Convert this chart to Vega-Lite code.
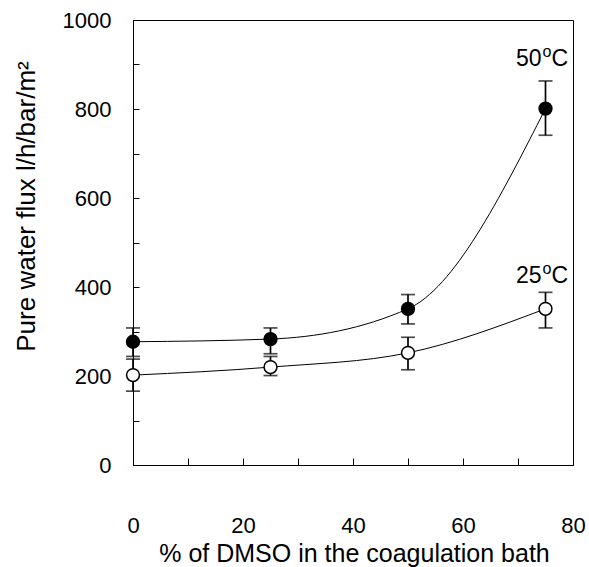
{
  "$schema": "https://vega.github.io/schema/vega-lite/v6.json",
  "autosize": {"type": "none"},
  "padding": {"left": 133, "top": 20, "right": 16, "bottom": 102},
  "width": 440,
  "height": 445,
  "background": "white",
  "config": {
    "view": {"stroke": "black", "strokeWidth": 1},
    "font": "Liberation Sans",
    "axis": {
      "grid": false,
      "domainColor": "black",
      "domainWidth": 1,
      "tickColor": "black",
      "tickWidth": 1,
      "labelColor": "black",
      "titleColor": "black",
      "labelFont": "Liberation Sans",
      "titleFont": "Liberation Sans",
      "labelFontSize": 22,
      "titleFontSize": 25,
      "titleFontWeight": "normal",
      "labelFlush": false
    }
  },
  "data": {
    "values": [
      {"dmso": 0, "flux": 277, "lo": 244, "hi": 308, "temp": "50"},
      {"dmso": 25, "flux": 283, "lo": 250, "hi": 308, "temp": "50"},
      {"dmso": 50, "flux": 351, "lo": 317, "hi": 383, "temp": "50"},
      {"dmso": 75, "flux": 801, "lo": 741, "hi": 863, "temp": "50"},
      {"dmso": 0, "flux": 202, "lo": 166, "hi": 238, "temp": "25"},
      {"dmso": 25, "flux": 220, "lo": 201, "hi": 244, "temp": "25"},
      {"dmso": 50, "flux": 252, "lo": 214, "hi": 287, "temp": "25"},
      {"dmso": 75, "flux": 351, "lo": 308, "hi": 388, "temp": "25"}
    ]
  },
  "encoding": {
    "x": {
      "field": "dmso",
      "type": "quantitative",
      "scale": {"domain": [0, 80], "nice": false},
      "axis": {
        "title": "% of DMSO in the coagulation bath",
        "values": [0, 10, 20, 30, 40, 50, 60, 70, 80],
        "labelExpr": "datum.value % 20 === 0 ? datum.label : ''",
        "tickSize": -7,
        "labelPadding": 57,
        "titleBaseline": "alphabetic",
        "titleY": 96,
        "titleX": 221
      }
    }
  },
  "layer": [
    {
      "mark": {"type": "line", "interpolate": "monotone", "color": "black", "strokeWidth": 1},
      "encoding": {
        "y": {
          "field": "flux",
          "type": "quantitative",
          "scale": {"domain": [0, 1000], "nice": false},
          "axis": {
            "title": "Pure water flux l/h/bar/m²",
            "format": "d",
            "values": [0, 100, 200, 300, 400, 500, 600, 700, 800, 900, 1000],
            "labelExpr": "datum.value % 200 === 0 ? datum.label : ''",
            "tickSize": -6,
            "labelPadding": 28,
            "titleX": -107,
            "titleY": 186,
            "titleFontSize": 26,
            "titleBaseline": "middle",
            "titleAngle": -90
          }
        },
        "detail": {"field": "temp"}
      }
    },
    {
      "mark": {"type": "rule", "color": "black", "strokeWidth": 1.7},
      "encoding": {"y": {"field": "lo", "type": "quantitative"}, "y2": {"field": "hi"}}
    },
    {
      "mark": {"type": "tick", "orient": "horizontal", "color": "black", "size": 14, "thickness": 1.7},
      "encoding": {"y": {"field": "lo", "type": "quantitative"}}
    },
    {
      "mark": {"type": "tick", "orient": "horizontal", "color": "black", "size": 14, "thickness": 1.7},
      "encoding": {"y": {"field": "hi", "type": "quantitative"}}
    },
    {
      "mark": {"type": "point", "shape": "circle", "filled": true, "size": 165, "stroke": "black", "strokeWidth": 1.5, "opacity": 1},
      "encoding": {
        "y": {"field": "flux", "type": "quantitative"},
        "fill": {
          "field": "temp",
          "type": "nominal",
          "scale": {"domain": ["50", "25"], "range": ["black", "white"]},
          "legend": null
        }
      }
    },
    {
      "transform": [{"filter": "datum.dmso === 75 && datum.temp === '50'"}],
      "layer": [
        {"mark": {"type": "text", "fontSize": 23, "color": "black", "align": "right", "baseline": "alphabetic", "dx": -4, "dy": -15},
         "encoding": {"y": {"field": "hi", "type": "quantitative"}, "text": {"field": "temp"}}},
        {"mark": {"type": "text", "fontSize": 16, "color": "black", "align": "left", "baseline": "alphabetic", "dx": -3, "dy": -24, "text": "o"},
         "encoding": {"y": {"field": "hi", "type": "quantitative"}}},
        {"mark": {"type": "text", "fontSize": 23, "color": "black", "align": "left", "baseline": "alphabetic", "dx": 6, "dy": -15, "text": "C"},
         "encoding": {"y": {"field": "hi", "type": "quantitative"}}}
      ]
    },
    {
      "transform": [{"filter": "datum.dmso === 75 && datum.temp === '25'"}],
      "layer": [
        {"mark": {"type": "text", "fontSize": 23, "color": "black", "align": "right", "baseline": "alphabetic", "dx": -4, "dy": -9},
         "encoding": {"y": {"field": "hi", "type": "quantitative"}, "text": {"field": "temp"}}},
        {"mark": {"type": "text", "fontSize": 16, "color": "black", "align": "left", "baseline": "alphabetic", "dx": -3, "dy": -18, "text": "o"},
         "encoding": {"y": {"field": "hi", "type": "quantitative"}}},
        {"mark": {"type": "text", "fontSize": 23, "color": "black", "align": "left", "baseline": "alphabetic", "dx": 6, "dy": -9, "text": "C"},
         "encoding": {"y": {"field": "hi", "type": "quantitative"}}}
      ]
    }
  ]
}
